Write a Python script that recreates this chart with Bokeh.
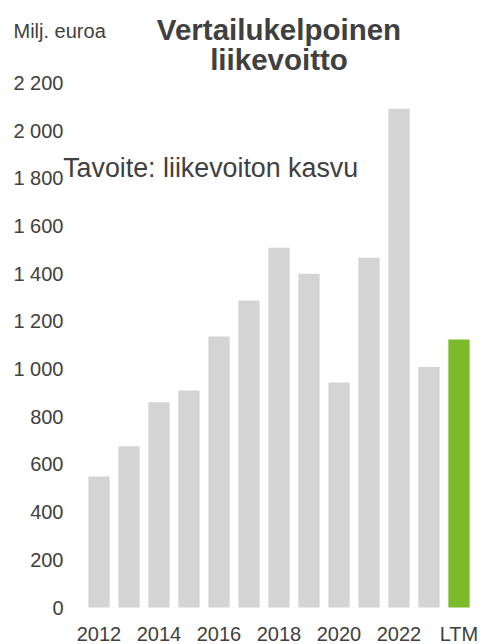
from bokeh.plotting import figure
from bokeh.models import Range1d, FixedTicker, Label, ColumnDataSource
from bokeh.embed import file_html
from bokeh.resources import INLINE

# ---- data ----
categories = ["2012", "2013", "2014", "2015", "2016", "2017", "2018",
              "2019", "2020", "2021", "2022", "2023", "LTM"]
values = [549, 676, 861, 910, 1136, 1287, 1508, 1399, 943, 1466, 2091, 1008, 1124]
highlight = "LTM"
y_ticks = [0, 200, 400, 600, 800, 1000, 1200, 1400, 1600, 1800, 2000, 2200]
y_tick_labels = ["0", "200", "400", "600", "800", "1 000", "1 200", "1 400",
                 "1 600", "1 800", "2 000", "2 200"]
title_lines = ["Vertailukelpoinen", "liikevoitto"]
unit_label = "Milj. euroa"
target_text = "Tavoite: liikevoiton kasvu"

# ---- layout constants (figure pixels) ----
W, H = 483, 644
PX_PER_CAT = 30.0
FIRST_CENTER = 98.5            # px of first bar centre
ZERO_Y = 607.0                 # px (from top) of value 0
PX_PER_UNIT = 0.2385

x0 = -FIRST_CENTER / PX_PER_CAT
x1 = x0 + W / PX_PER_CAT
y0 = -(H - ZERO_Y) / PX_PER_UNIT
y1 = ZERO_Y / PX_PER_UNIT

def dx(fx):
    return x0 + fx / PX_PER_CAT

def dy(fy):
    return (ZERO_Y - fy) / PX_PER_UNIT

TEXT = "#404040"
FONT = "Liberation Sans"
GREY = "#d4d4d4"
GREEN = "#7bbb2a"

p = figure(width=W, height=H, x_range=Range1d(x0, x1), y_range=Range1d(y0, y1),
           output_backend="svg", toolbar_location=None,
           min_border_left=0, min_border_right=0, min_border_top=0,
           min_border_bottom=0)
p.outline_line_color = None
p.xgrid.visible = False
p.ygrid.visible = False
p.background_fill_color = "white"
p.border_fill_color = "white"

src = ColumnDataSource(dict(
    x=list(range(len(categories))),
    top=values,
    color=[GREEN if c == highlight else GREY for c in categories],
))
p.vbar(x="x", top="top", width=0.71, bottom=0, color="color", line_color=None, source=src)

# y axis (drawn at a fixed location, takes no panel space)
ya = p.yaxis[0]
ya.fixed_location = dx(63)
ya.ticker = FixedTicker(ticks=y_ticks)
ya.major_label_overrides = {t: l for t, l in zip(y_ticks, y_tick_labels)}
ya.axis_line_color = None
ya.major_tick_line_color = None
ya.minor_tick_line_color = None
ya.major_tick_in = 0
ya.major_tick_out = 0
ya.major_label_standoff = 0
ya.major_label_text_font = FONT
ya.major_label_text_font_size = "20px"
ya.major_label_text_color = TEXT

# x axis
xa = p.xaxis[0]
xa.fixed_location = 0
xt = list(range(0, len(categories), 2))
xa.ticker = FixedTicker(ticks=xt)
xa.major_label_overrides = {i: categories[i] for i in xt}
xa.axis_line_color = None
xa.major_tick_line_color = None
xa.minor_tick_line_color = None
xa.major_tick_in = 0
xa.major_tick_out = 0
xa.major_label_standoff = 15
xa.major_label_text_font = FONT
xa.major_label_text_font_size = "20px"
xa.major_label_text_color = TEXT

# texts
p.add_layout(Label(x=dx(13), y=dy(30.7), text=unit_label, text_font=FONT,
                   text_font_size="20px", text_color=TEXT,
                   text_align="left", text_baseline="alphabetic"))
p.add_layout(Label(x=6, y=dy(29.3), text=title_lines[0], text_font=FONT,
                   text_font_size="29.5px", text_font_style="bold", text_color=TEXT,
                   text_align="center", text_baseline="alphabetic"))
p.add_layout(Label(x=6, y=dy(59.3), text=title_lines[1], text_font=FONT,
                   text_font_size="29.5px", text_font_style="bold", text_color=TEXT,
                   text_align="center", text_baseline="alphabetic"))
p.add_layout(Label(x=dx(62.7), y=dy(167.3), text=target_text, text_font=FONT,
                   text_font_size="26.8px", text_color=TEXT,
                   text_align="left", text_baseline="alphabetic"))

open("out.html", "w").write(file_html(p, INLINE))
